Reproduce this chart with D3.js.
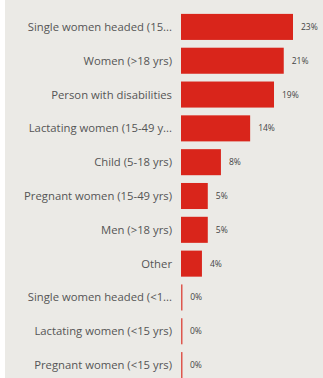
<!DOCTYPE html>
<html>
<head>
<meta charset="utf-8">
<script src="https://cdn.jsdelivr.net/npm/d3@7"></script>
<style>
  html, body { margin: 0; padding: 0; background: #ffffff; }
  #chart { width: 323px; height: 378px; }
</style>
</head>
<body>
<div id="chart"></div>
<script>
// categories (as shown, truncated like the original)
const categories = [
    "Single women headed (15...",
    "Women (>18 yrs)",
    "Person with disabilities",
    "Lactating women (15-49 y...",
    "Child (5-18 yrs)",
    "Pregnant women (15-49 yrs)",
    "Men (>18 yrs)",
    "Other",
    "Single women headed (<1...",
    "Lactating women (<15 yrs)",
    "Pregnant women (<15 yrs)"
];
// share of beneficiaries (%)
const values = [23.0, 21.1, 19.1, 14.2, 8.2, 5.5, 5.5, 4.3, 0.25, 0.2, 0.2];
// labels printed next to bars
const valueLabels = ["23%", "21%", "19%", "14%", "8%", "5%", "5%", "4%", "0%", "0%", "0%"];

const fullWidth = 323, fullHeight = 378;

let svg = d3.select("#chart")
    .append("svg")
    .attr("width", fullWidth)
    .attr("height", fullHeight);

// nền xám, dải trắng bên trái
svg.append("rect")
    .attr("x", 5).attr("y", 0)
    .attr("width", fullWidth - 5).attr("height", fullHeight)
    .attr("fill", "#ebeae6");

let x = d3.scaleLinear()
    .domain([0, 23])
    .range([181, 293]);

let y = d3.scaleBand()
    .domain(categories)
    .range([10, 382])
    .paddingInner(0.23)
    .paddingOuter(0.115);

let data = categories.map((c, i) => ({ cat: c, val: values[i], label: valueLabels[i] }));

// category axis labels
svg.selectAll(".cat")
    .data(data)
    .enter()
    .append("text")
    .attr("class", "cat")
    .attr("x", 172)
    .attr("y", d => y(d.cat) + y.bandwidth() / 2)
    .attr("dy", "0.35em")
    .attr("text-anchor", "end")
    .style("font-family", "'Open Sans', sans-serif")
    .style("font-size", "11.3px")
    .style("fill", "#555")
    .text(d => d.cat);

// bars
svg.selectAll(".bar")
    .data(data)
    .enter()
    .append("rect")
    .attr("class", "bar")
    .attr("x", x(0))
    .attr("y", d => y(d.cat))
    .attr("width", d => Math.max(1.5, x(d.val) - x(0)))
    .attr("height", y.bandwidth())
    .attr("fill", "#d9251b")
    .attr("fill-opacity", d => d.val < 1 ? 0.75 : 1);

// value labels
svg.selectAll(".label")
    .data(data)
    .enter()
    .append("text")
    .attr("class", "label")
    .attr("x", d => Math.max(x(0) + 1, x(d.val)) + 8)
    .attr("y", d => y(d.cat) + y.bandwidth() / 2)
    .attr("dy", "0.35em")
    .style("font-family", "'Open Sans', sans-serif")
    .style("font-size", "8.5px")
    .style("fill", "#444")
    .text(d => d.label);
</script>
</body>
</html>
